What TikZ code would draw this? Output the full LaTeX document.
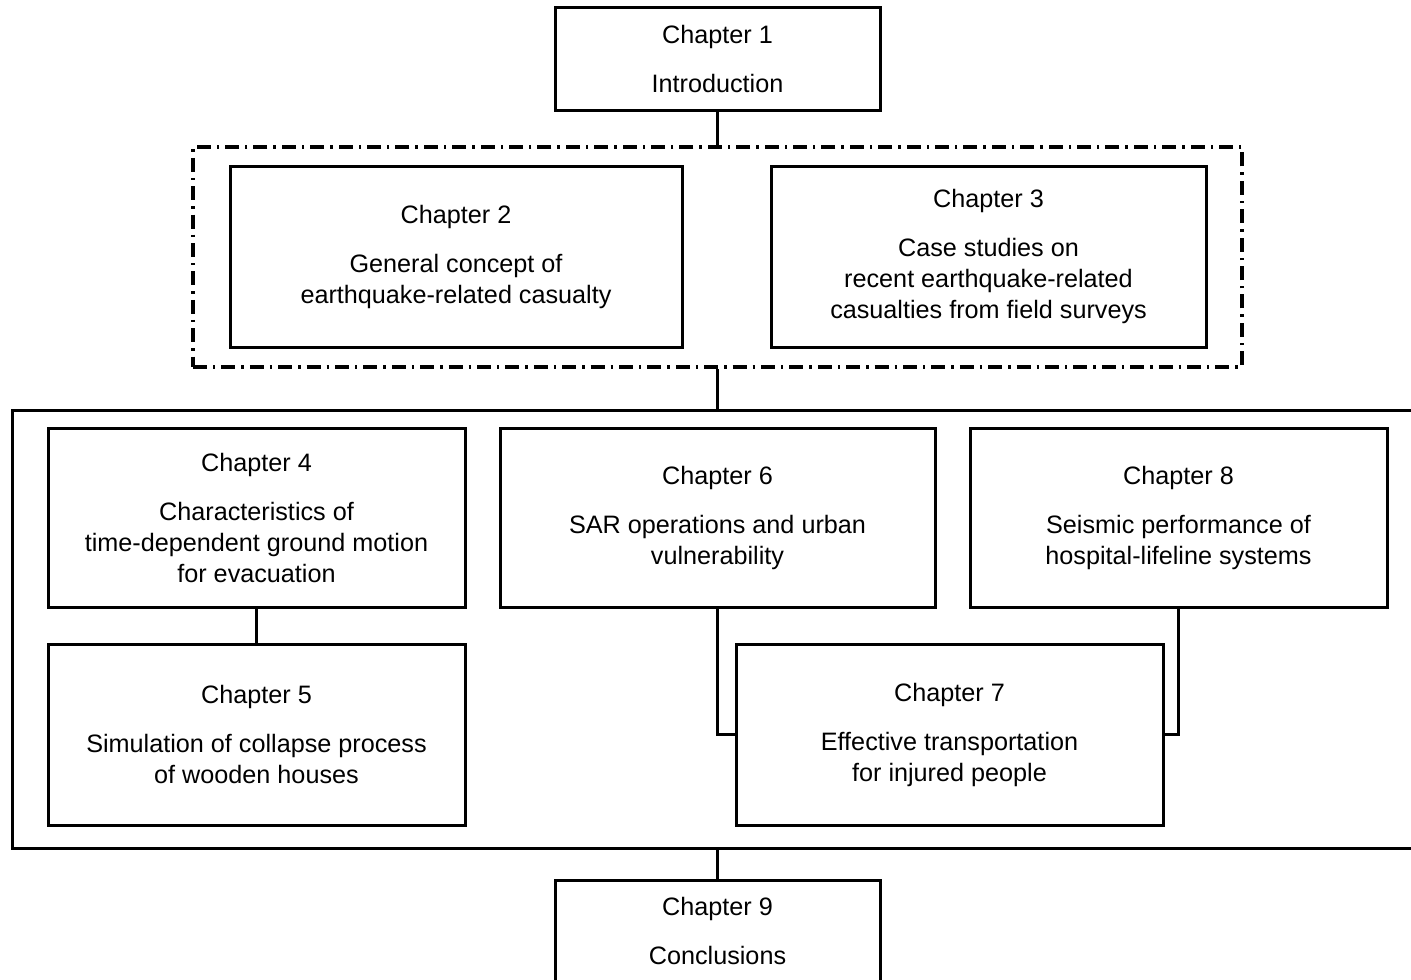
\documentclass[tikz,border=0pt]{standalone}
\usepackage{fontspec}
\setmainfont{Liberation Sans}
\begin{document}
\begin{tikzpicture}[x=0.5pt,y=-0.5pt,
  chapbox/.style={draw, line width=1.5pt, rectangle, align=center, inner sep=0pt,
    font=\fontsize{12.6}{15.5}\selectfont},
  groupbox/.style={draw, line width=2pt, rectangle, inner sep=0pt,
    dash pattern=on 7pt off 3pt on 1.2pt off 3pt},
  frame/.style={draw, line width=1.5pt, rectangle, inner sep=0pt},
  link/.style={line width=1.5pt}]
\useasboundingbox (0,0) rectangle (1411,979);

% top chapter
\node[chapbox, minimum width=162.5pt, minimum height=51pt] (ch1) at (717.5,59)
  {Chapter 1\\[9pt]Introduction};

% background chapters in the dash-dot group
\node[groupbox, minimum width=524.5pt, minimum height=110pt] (grp) at (717.5,257) {};
\node[chapbox, minimum width=226pt, minimum height=90.5pt] (ch2) at (456,256.5)
  {Chapter 2\\[9pt]General concept of\\earthquake-related casualty};
\node[chapbox, minimum width=217.5pt, minimum height=90.5pt] (ch3) at (988.5,256.5)
  {Chapter 3\\[9pt]Case studies on\\recent earthquake-related\\casualties from field surveys};

% main frame, running past the right edge
\node[frame, minimum width=704pt, minimum height=219pt] (big) at (716,629) {};

\node[chapbox, minimum width=208.5pt, minimum height=89.5pt] (ch4) at (256.5,517.5)
  {Chapter 4\\[9pt]Characteristics of\\time-dependent ground motion\\for evacuation};
\node[chapbox, minimum width=208.5pt, minimum height=90.5pt] (ch5) at (256.5,734.5)
  {Chapter 5\\[9pt]Simulation of collapse process\\of wooden houses};
\node[chapbox, minimum width=217.5pt, minimum height=89.5pt] (ch6) at (717.5,517.5)
  {Chapter 6\\[9pt]SAR operations and urban\\vulnerability};
\node[chapbox, minimum width=208.5pt, minimum height=89.5pt] (ch8) at (1178.5,517.5)
  {Chapter 8\\[9pt]Seismic performance of\\hospital-lifeline systems};
\node[chapbox, minimum width=213.5pt, minimum height=90.5pt] (ch7) at (949.5,734.5)
  {Chapter 7\\[9pt]Effective transportation\\for injured people};

% closing chapter
\node[chapbox, minimum width=162.5pt, minimum height=51pt] (ch9) at (717.5,931)
  {Chapter 9\\[9pt]Conclusions};

% connectors
\draw[link] (ch1.south) -- (ch1.south |- grp.north);
\draw[link] (grp.south) -- (grp.south |- big.north);
\draw[link] (ch4.south) -- (ch5.north);
\draw[link] (ch6.south) |- (ch7.west);
\draw[link] (ch8.south) |- (ch7.east);
\draw[link] (ch9.north |- big.south) -- (ch9.north);
\end{tikzpicture}
\end{document}
